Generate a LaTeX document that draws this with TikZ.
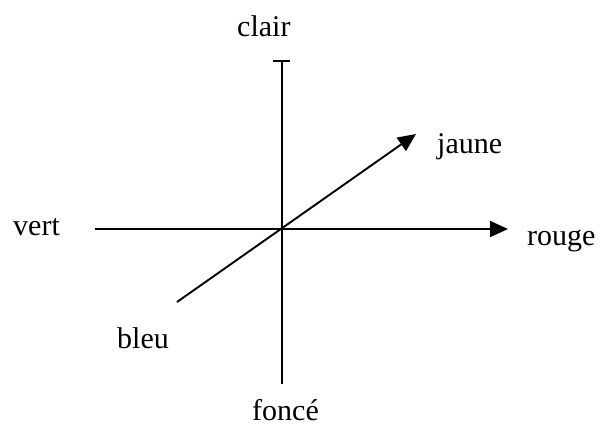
\documentclass[tikz,border=0pt]{standalone}
\usepackage{fontspec}
\setmainfont{Liberation Serif}
\usetikzlibrary{arrows.meta}
\begin{document}
\begin{tikzpicture}[x=1pt,y=-1pt,
  axis/.style={line width=1.9pt},
  arr/.style={axis,-{Triangle[length=18pt,width=16pt]}},
  lbl/.style={anchor=base west,inner sep=0pt,font=\fontsize{30}{36}\selectfont}]
\useasboundingbox (0,0) rectangle (608,426);
\coordinate (top) at (282,61);
\coordinate (bot) at (282,384);
\coordinate (tl) at (273,61);
\coordinate (tr) at (290,61);
\coordinate (left) at (95,229);
\coordinate (right) at (508,229);
\coordinate (bl) at (177,302);
\coordinate (ur) at (416,134);
\draw[axis] (top) -- (bot);
\draw[axis] (tl) -- (tr);
\draw[arr] (left) -- (right);
\draw[arr] (bl) -- (ur);
\node[lbl] (clair) at (237,36.5) {clair};
\node[lbl] (jaune) at (437,153) {jaune};
\node[lbl] (vert) at (13,235) {vert};
\node[lbl] (rouge) at (527,245) {rouge};
\node[lbl] (bleu) at (117,348) {bleu};
\node[lbl] (fonce) at (252,420) {foncé};
\end{tikzpicture}
\end{document}
